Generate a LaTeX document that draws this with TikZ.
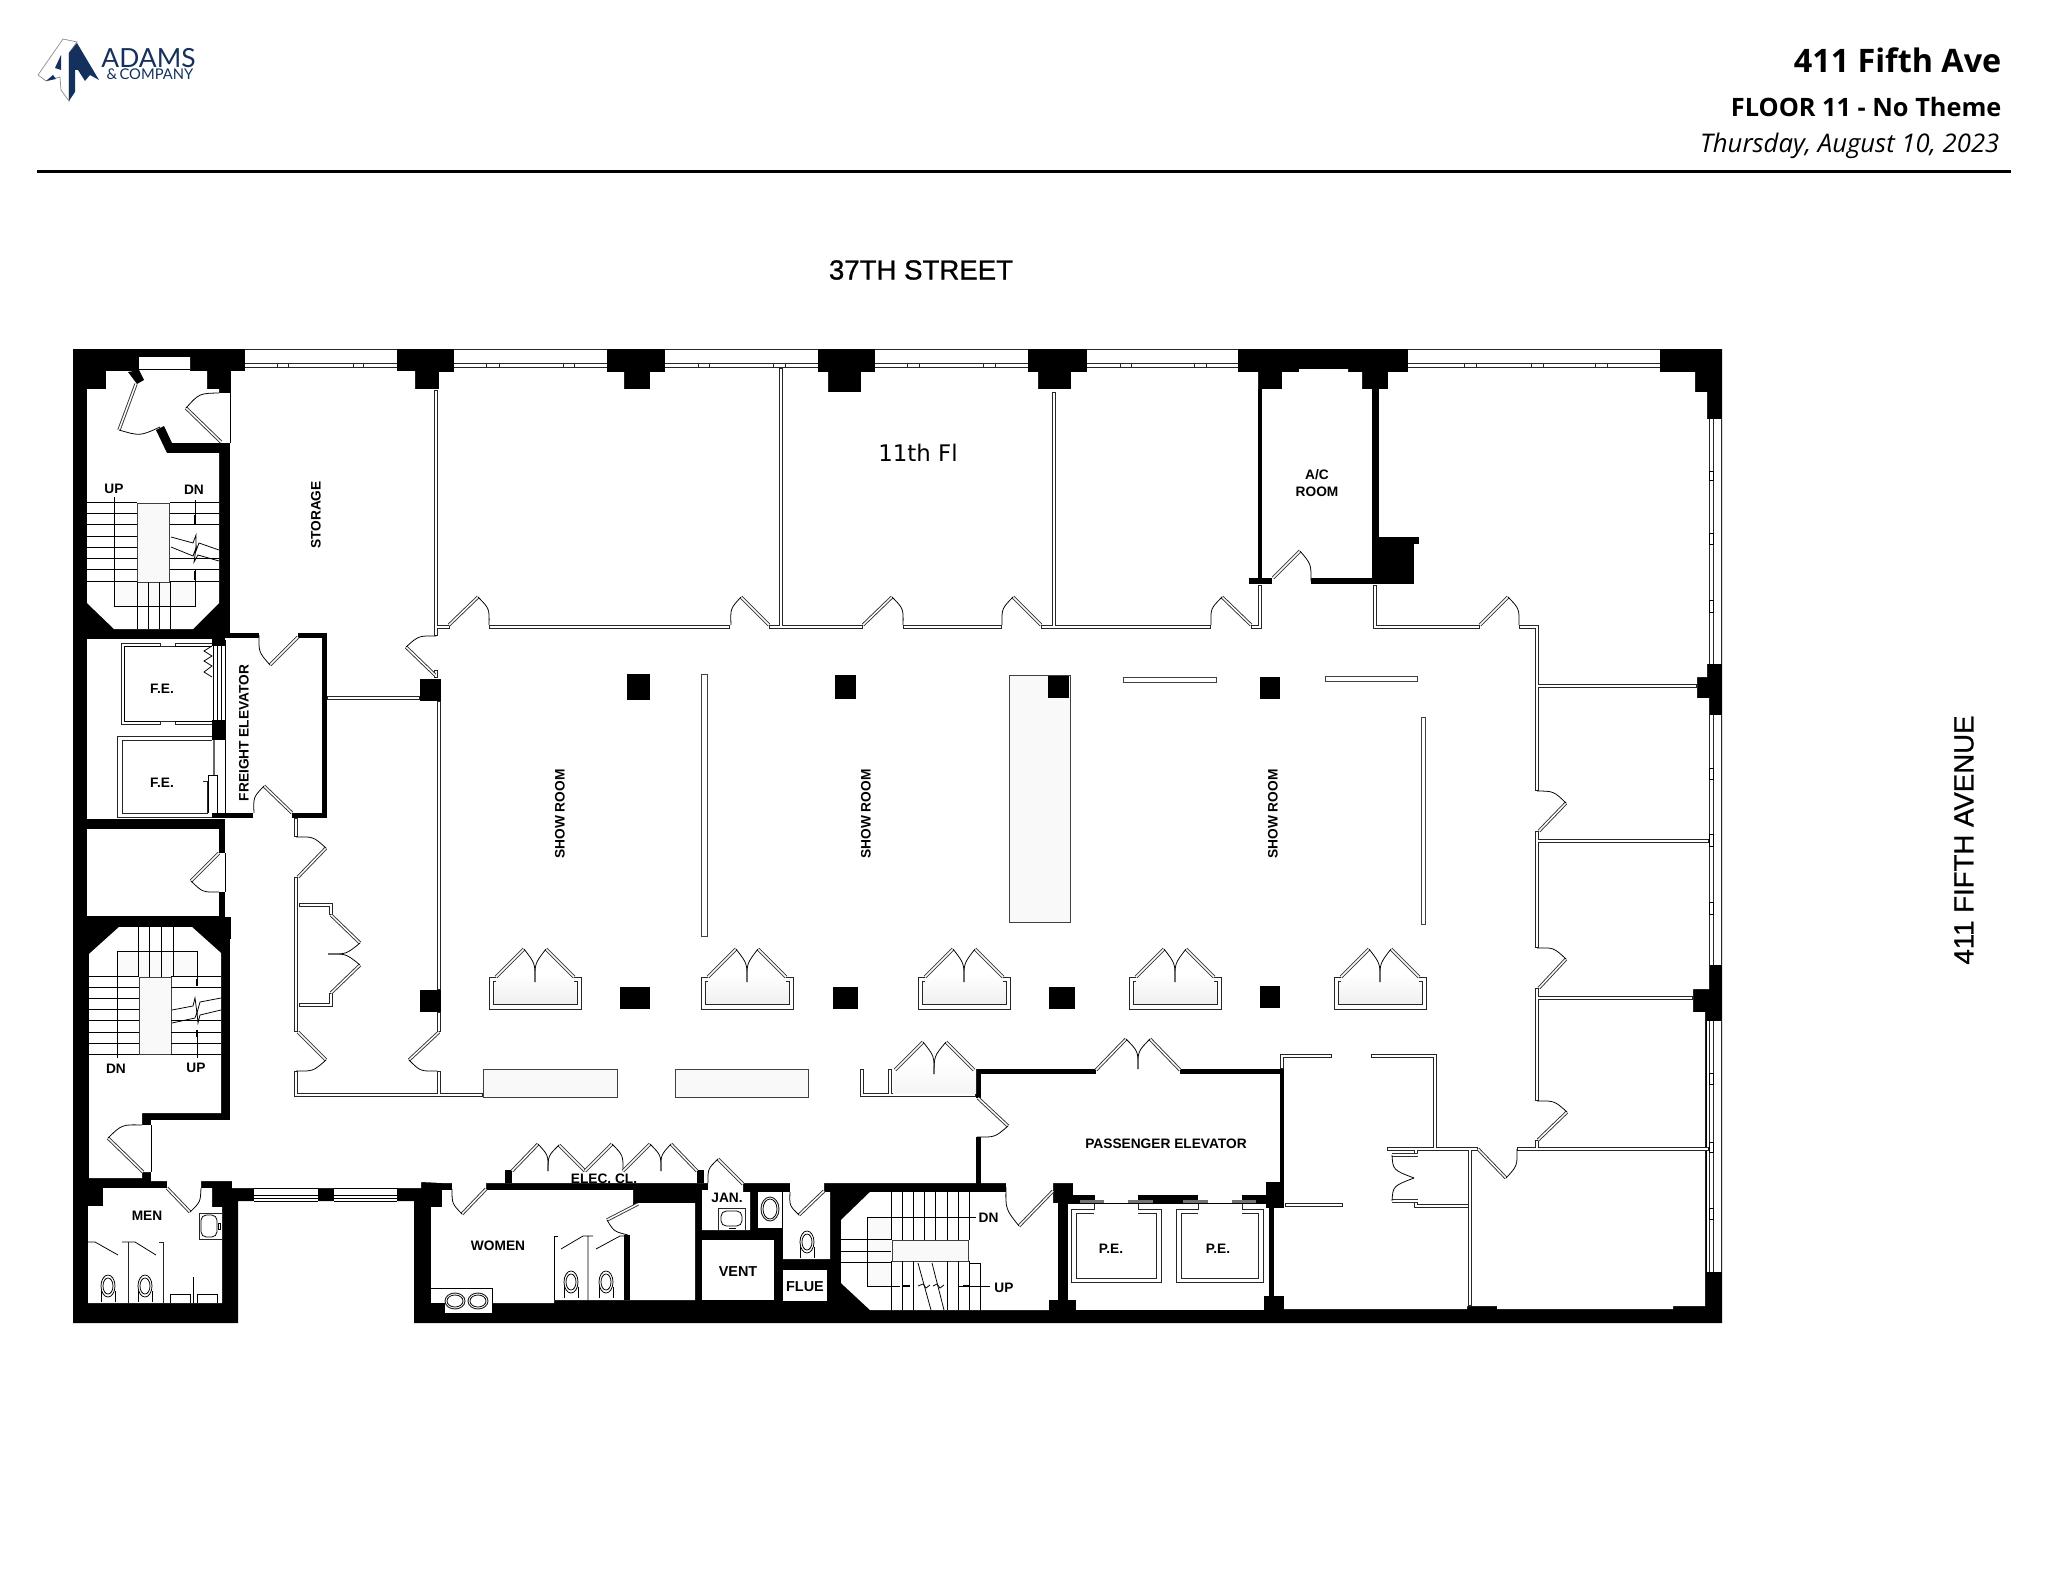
\documentclass[tikz,border=0pt]{standalone}
\usepackage{fontspec}
\setmainfont{Liberation Sans}
\newfontfamily\headfont{Open Sans}
\newfontfamily\markfont{DejaVu Sans}
\newfontfamily\logofont{Lato}
\newfontfamily\streetfont[FakeBold=0.9]{Liberation Sans}
\usetikzlibrary{calc}
\definecolor{adamsnavy}{HTML}{14305C}

\tikzset{
    wall/.style={fill=black},
    room/.style={fill=white},
    fineline/.style={draw=black!85,line width=0.27pt},
    hairline/.style={draw=black,line width=0.22pt},
    partition/.style={draw=black!85,line width=0.32pt,double=white,double distance=0.75pt,line cap=rect},
    leaf/.style={draw=black!80,line width=0.26pt,double=white,double distance=0.42pt},
    screenbox/.style={draw=black!75,line width=0.27pt,fill=white},
    tintbox/.style={draw=black!75,line width=0.27pt,fill=black!2.5},
    roomlabel/.style={font=\fontsize{3.9}{4.7}\selectfont\bfseries,inner sep=0pt,align=center},
    biglabel/.style={font=\fontsize{4.1}{5}\selectfont\bfseries,inner sep=0pt},
    streetlabel/.style={font=\streetfont\fontsize{7.85}{10}\selectfont,inner sep=0pt},
}

% hinge, leaf tip, end of the swing
\newcommand{\door}[3]{
    \draw[leaf] (#1) -- (#2);
    \draw[hairline] (#2) .. controls ($(#1)+0.586*(#2)+0.586*(#3)-1.172*(#1)$) .. (#3);
}
\newcommand{\topwin}[2]{
    \fill[room] (#1,350) rectangle (#2,372);
    \draw[fineline] (#1,349.5) -- (#2,349.5);
    \draw[fineline] (#1,363) -- (#2,363) (#1,367) -- (#2,367);
}
\newcommand{\eastwin}[2]{
    \fill[room] (1707,#1) rectangle (1721.6,#2);
    \draw[fineline] (1721.6,#1) -- (1721.6,#2);
    \draw[fineline] (1709,#1) -- (1709,#2) (1713,#1) -- (1713,#2);
}
\newcommand{\mullion}[2]{\draw[fineline,fill=white] (#1,363) rectangle (#2,367.4);}
\newcommand{\eastmul}[2]{\draw[hairline,fill=white] (1709,#1) rectangle (1713,#2);}
\newcommand{\showbay}[1]{
    \begin{scope}[shift={(#1,0)}]
        \shade[top color=white,bottom color=black!6] (4,974) rectangle (88,1004);
        \draw[fineline] (7,977) -- (0,977) -- (0,1009) -- (92,1009) -- (92,977) -- (85,977);
        \draw[fineline] (7,981) -- (4,981) -- (4,1004) -- (88,1004) -- (88,981) -- (85,981);
        \door{7,977}{35,949}{46,982}
        \door{85,977}{57,949}{46,982}
    \end{scope}
}
\newcommand{\bowl}[2]{
    \draw[hairline] (#1,#2) ellipse (7 and 11);
    \draw[hairline] (#1,#2) ellipse (5 and 8);
    \draw[hairline] (#1-7,#2+5) -- (#1-7,#2+16) (#1+7,#2+5) -- (#1+7,#2+16);
}

\begin{document}
\begin{tikzpicture}[x=0.01cm,y=-0.01cm]
    \useasboundingbox (0,0) rectangle (2048,1582);

    % Logo
    \draw[draw=black!45,line width=0.2pt,fill=white] (38,75) -- (63,39) -- (77,42) -- (69,53) -- (69,101) -- (61,90) -- (60,77) -- (46,81) -- cycle;
    \fill[adamsnavy] (77,43) -- (99,80) -- (90,75) -- (85,81) -- (78,70) -- (75,70) -- (75,92) -- (69,101) -- (69,53) -- cycle;
    \fill[adamsnavy] (55,68) -- (61,55) -- (61,70) -- cycle;
    \fill[adamsnavy] (46,81) -- (53,75) -- (56,79) -- cycle;
    \node[font=\logofont\fontsize{7.5}{8}\selectfont,text=adamsnavy,inner sep=0pt] (logoname) at (148.5,58) {ADAMS};
    \node[font=\logofont\fontsize{4.2}{5}\selectfont,text=adamsnavy,inner sep=0pt] (logocompany) at (150,74.5) {\&\,COMPANY};

    % Page header
    \node[anchor=east,font=\headfont\bfseries\fontsize{9.2}{11}\selectfont,inner sep=0pt] (buildingname) at (2002,60) {411 Fifth Ave};
    \node[anchor=east,font=\headfont\bfseries\fontsize{7.2}{9}\selectfont,inner sep=0pt] (floorname) at (2002,107) {FLOOR 11 - No Theme};
    \node[anchor=east,font=\headfont\itshape\fontsize{7.3}{9}\selectfont,inner sep=0pt] (reportdate) at (2000,146) {Thursday, August 10, 2023};
    \fill[black] (37,170.5) rectangle (2011,173);

    % Street names
    \node[streetlabel] (northstreet) at (921,270) {37TH STREET};
    \node[streetlabel,rotate=90] (eastavenue) at (1964,840) {411 FIFTH AVENUE};

    % Building mass
    \fill[wall] (73,349) -- (1722,349) -- (1722,1323) -- (414,1323) -- (414,1201) -- (238,1201) -- (238,1323) -- (73,1323) -- cycle;

    % Open floor
    \fill[room] (230,371) -- (415,371) -- (415,389) -- (439,389) -- (439,372) -- (624,372) -- (624,389) -- (650,389) -- (650,372)
        -- (828,372) -- (828,392) -- (861,392) -- (861,372) -- (1038,372) -- (1038,389) -- (1071,389) -- (1071,372)
        -- (1258,372) -- (1258,389) -- (1282,389) -- (1282,372) -- (1299,372) -- (1299,369) -- (1348,369) -- (1348,372)
        -- (1362,372) -- (1362,389) -- (1388,389) -- (1388,372) -- (1695,372) -- (1695,392) -- (1707,392) -- (1707,677)
        -- (1697,677) -- (1697,698) -- (1709,698) -- (1709,989) -- (1693,989) -- (1693,1012) -- (1705,1012) -- (1705,1306)
        -- (1673,1306) -- (1673,1309) -- (1497,1309) -- (1497,1306) -- (1467,1306) -- (1467,1309) -- (1284,1309) -- (1284,1296)
        -- (1274,1296) -- (1274,1208) -- (1284,1208) -- (1284,1183) -- (442,1183) -- (421,1182) -- (421,1188) -- (232,1188)
        -- (232,1181) -- (151,1181) -- (151,1120) -- (230,1120) -- (230,939) -- (231,939) -- (231,917) -- (225,917)
        -- (225,633) -- (230,633) -- cycle;

    % Rooms cut out of the core
    \fill[room] (87,389) -- (106,389) -- (106,371) -- (139,371) -- (139,357) -- (190,357) -- (190,371) -- (207,371) -- (207,389) -- (219,389)
        -- (219,393) -- (230,393) -- (230,443) -- (219,443) -- (219,603) -- (193,629) -- (114,629) -- (87,603) -- cycle;
    \draw[hairline] (139,369.5) -- (190,369.5);
    \draw[hairline] (230,371) -- (230,443);
    \fill[room] (87,639) rectangle (225,819);
    \fill[room] (87,829) rectangle (219,916);
    \fill[room] (219,853) rectangle (226,892);
    \draw[hairline] (225,853) -- (225,892);
    \fill[room] (119,927) -- (192,927) -- (221,953) -- (221,1113) -- (142,1113) -- (142,1125) -- (151,1125) -- (151,1172) -- (142,1172)
        -- (142,1178) -- (89,1178) -- (89,954) -- cycle;
    \draw[hairline] (151,1125) -- (151,1172);
    \fill[room] (88,1206) -- (103,1206) -- (103,1188) -- (167,1188) -- (167,1178) -- (201,1178) -- (201,1188) -- (212,1188) -- (212,1207)
        -- (222,1207) -- (222,1303) -- (88,1303) -- cycle;
    \fill[room] (431,1207) -- (442,1207) -- (442,1190) -- (452,1190) -- (452,1182) -- (486,1182) -- (486,1190) -- (633,1190) -- (633,1203)
        -- (695,1203) -- (695,1300) -- (554,1300) -- (554,1303) -- (431,1303) -- cycle;
    \fill[room] (702,1190) -- (708,1190) -- (708,1182) -- (743,1182) -- (743,1192) -- (750,1192) -- (750,1230) -- (702,1230) -- cycle;
    \fill[room] (758,1192) rectangle (782,1228);
    \fill[room] (702,1240) rectangle (774,1300);
    \fill[room] (783,1192) -- (790,1192) -- (790,1182) -- (824,1182) -- (824,1192) -- (830,1192) -- (830,1259) -- (783,1259) -- cycle;
    \fill[room] (783,1270) rectangle (827,1301);
    \fill[room] (870,1192) -- (1006,1192) -- (1006,1182) -- (1053,1182) -- (1053,1203) -- (1058,1203) -- (1058,1300) -- (1049,1300)
        -- (1049,1310) -- (870,1310) -- (841,1283) -- (841,1220) -- cycle;
    \fill[room] (1073,1182) rectangle (1266,1195);
    \fill[room] (1095,1194) rectangle (1138,1204);
    \fill[room] (1198,1194) rectangle (1242,1204);
    \fill[room] (1068,1203) rectangle (1269,1310);

    % Clipped closet label goes under its wall
    \node[roomlabel] (eleccloset) at (604,1179) {ELEC. CL.};

    % Window bands
    \topwin{245}{397}
    \topwin{454}{607}
    \topwin{665}{818}
    \topwin{875}{1028}
    \topwin{1087}{1238}
    \topwin{1408}{1660}
    \mullion{277}{288}
    \mullion{353}{363}
    \mullion{486}{499}
    \mullion{563}{574}
    \mullion{698}{709}
    \mullion{773}{785}
    \mullion{907}{919}
    \mullion{983}{995}
    \mullion{1120}{1131}
    \mullion{1194}{1206}
    \mullion{1464}{1476}
    \mullion{1531}{1543}
    \mullion{1595}{1607}
    \eastwin{419}{664}
    \eastwin{715}{965}
    \eastwin{1021}{1272}
    \eastmul{471}{480}
    \eastmul{533}{544}
    \eastmul{600}{612}
    \eastmul{768}{779}
    \eastmul{834}{846}
    \eastmul{902}{914}
    \eastmul{1073}{1084}
    \eastmul{1142}{1152}
    \eastmul{1208}{1219}
    \fill[room] (254,1188) rectangle (318,1201);
    \fill[room] (334,1188) rectangle (397,1201);
    \draw[hairline] (254,1188) -- (318,1188) (254,1195) -- (318,1195) (254,1198) -- (318,1198) (254,1201) -- (318,1201);
    \draw[hairline] (334,1188) -- (397,1188) (334,1195) -- (397,1195) (334,1198) -- (397,1198) (334,1201) -- (397,1201);

    % Solid walls over the floor
    \fill[wall] (167,443) rectangle (230,453);
    \fill[wall] (156,430) -- (164,426) -- (172,443) -- (167,453) -- cycle;
    \fill[wall] (128,372) -- (139,370) -- (144,380) -- (137,384) -- cycle;
    \fill[wall] (225,633) rectangle (259,638);
    \fill[wall] (298,633) rectangle (327,638);
    \fill[wall] (322,633) rectangle (327,818);
    \fill[wall] (292,813) rectangle (327,818);
    \fill[wall] (212,813) rectangle (253,818);
    \fill[wall] (212,633) rectangle (225,646);
    \fill[wall] (212,720) rectangle (225,740);
    \fill[wall] (87,819) rectangle (225,829);
    \fill[wall] (225,917) rectangle (231,939);
    \fill[wall] (1258,389) rectangle (1262,578);
    \fill[wall] (1249,578) rectangle (1272,584);
    \fill[wall] (1311,578) rectangle (1372,584);
    \fill[wall] (1372,389) rectangle (1379,584);
    \fill[wall] (1372,543) rectangle (1414,584);
    \fill[wall] (1379,537) rectangle (1419,544);
    \fill[wall] (976,1069) rectangle (1096,1074);
    \fill[wall] (1180,1069) rectangle (1284,1074);
    \fill[wall] (976,1069) rectangle (981,1098);
    \fill[wall] (976,1137) rectangle (981,1184);
    \fill[wall] (1280,1069) rectangle (1284,1184);
    \fill[wall] (1266,1182) rectangle (1284,1208);
    \fill[wall] (1269,1203) rectangle (1274,1300);
    \fill[wall] (1264,1296) rectangle (1284,1310);
    \fill[wall] (1058,1203) rectangle (1068,1310);
    \fill[wall] (1049,1300) rectangle (1076,1310);
    \fill[wall] (505,1170) rectangle (512,1183);
    \fill[wall] (697,1170) rectangle (704,1183);
    \fill[wall] (624,1235) rectangle (630,1300);
    \fill[wall] (633,1203) rectangle (638,1205);

    % Free columns
    \fill[wall] (420,679) rectangle (441,701);
    \fill[wall] (420,990) rectangle (441,1012);
    \fill[wall] (627,674) rectangle (650,700);
    \fill[wall] (835,675) rectangle (856,699);
    \draw[tintbox] (1009,675) rectangle (1070,922);
    \fill[wall] (1048,676) rectangle (1069,698);
    \fill[wall] (1260,677) rectangle (1280,699);
    \fill[wall] (620,987) rectangle (650,1009);
    \fill[wall] (833,987) rectangle (858,1009);
    \fill[wall] (1049,987) rectangle (1075,1009);
    \fill[wall] (1260,986) rectangle (1280,1008);

    % Partitions
    \draw[partition] (436,392) -- (436,633.5)
        (436,627) -- (447.5,627)
        (491.5,627) -- (727.5,627)
        (771.5,627) -- (860.5,627)
        (781,370) -- (781,627)
        (905.5,627) -- (999.5,627)
        (1043.5,627) -- (1208.5,627)
        (1054,394.5) -- (1054,627)
        (1253.5,627) -- (1260,627) -- (1260,587)
        (1375,587) -- (1375,627) -- (1477.5,627)
        (1521.5,627) -- (1537,627) -- (1537,788.5)
        (1537,833.5) -- (1537,945.5)
        (1537,990.5) -- (1537,1098.5)
        (1537,1142.5) -- (1537,1147)
        (1539,686) -- (1694.5,686)
        (1539,841) -- (1706.5,841)
        (1539,998) -- (1690.5,998)
        (1519.5,1149) -- (1706.5,1149)
        (1389.5,1149) -- (1475.5,1149)
        (1470,1149) -- (1470,1303.5)
        (1416,1151) -- (1416,1153.5)
        (1416,1203.5) -- (1416,1206) -- (1467,1206)
        (1435,1058.5) -- (1435,1147)
        (1373.5,1056) -- (1435,1056)
        (1329.5,1056) -- (1282,1056) -- (1282,1066.5)
        (1287.5,1205) -- (1340.5,1205)
        (329.5,698) -- (417.5,698)
        (436,672.5) -- (436,676)
        (439,703.5) -- (439,987.5)
        (439,1014.5) -- (439,1029.5)
        (439,1073.5) -- (439,1095)
        (296,820.5) -- (296,834.5)
        (296,879.5) -- (296,1029.5)
        (296,1073.5) -- (296,1095) -- (480.5,1095)
        (301.5,905) -- (331,905) -- (331,912.5)
        (301.5,1005) -- (331,1005) -- (331,995.5)
        (862,1071.5) -- (862,1095) -- (973.5,1095)
        (890,1071.5) -- (890,1095);

    % Free standing screens and counters
    \draw[screenbox] (701,674) rectangle (707,936);
    \draw[screenbox] (1123,677) rectangle (1216,682);
    \draw[screenbox] (1325,676) rectangle (1417,681);
    \draw[screenbox] (1421,717) rectangle (1425,924);
    \draw[tintbox] (483,1069) rectangle (617,1097);
    \draw[tintbox] (675,1069) rectangle (808,1097);
    \shade[top color=white,bottom color=black!4] (893,1062) rectangle (976,1093);

    % Display bays
    \showbay{489}
    \showbay{701}
    \showbay{918}
    \showbay{1129}
    \showbay{1334}

    % Doors
    \door{449,625}{478,597}{489,625}
    \door{769,625}{741,597}{731,625}
    \door{863,625}{892,597}{903,625}
    \door{1041,625}{1013,597}{1002,625}
    \door{1251,625}{1222,597}{1211,625}
    \door{1480,625}{1508,597}{1519,625}
    \door{1273,578}{1300,551}{1311,581}
    \door{435,675}{406,647}{436,636}
    \door{439,1032}{409,1060}{437,1071}
    \door{298,877}{326,848}{296,837}
    \door{298,1032}{326,1060}{296,1071}
    \door{298,637}{270,665}{259,635}
    \door{292,813}{264,786}{254,813}
    \door{221,442}{186,408}{219,393}
    \door{136,384}{119,430}{160,427}
    \door{219,853}{191,881}{219,892}
    \door{143,1172}{108,1138}{142,1125}
    \door{167,1188}{190,1212}{201,1188}
    \door{486,1189}{462,1214}{452,1189}
    \door{638,1204}{607,1220}{628,1235}
    \door{743,1184}{718,1159}{708,1183}
    \door{824,1191}{799,1215}{790,1192}
    \door{1053,1191}{1019,1226}{1006,1187}
    \door{978,1098}{1008,1126}{977,1137}
    \door{1539,831}{1566,803}{1537,791}
    \door{1539,988}{1566,959}{1537,948}
    \door{1538,1140}{1567,1112}{1537,1101}
    \door{1478,1149}{1506,1178}{1517,1149}
    \door{331,915}{360,943}{328,954}
    \door{331,993}{360,965}{328,954}
    \door{512,1171}{538,1144}{548,1171}
    \door{585,1171}{559,1145}{548,1171}
    \door{585,1171}{612,1144}{623,1171}
    \door{623,1171}{650,1144}{661,1171}
    \door{697,1171}{671,1144}{661,1171}
    \door{895,1070}{923,1042}{934,1074}
    \door{974,1070}{946,1042}{934,1074}
    \door{1096,1070}{1126,1039}{1138,1069}
    \door{1180,1070}{1150,1039}{1138,1069}
    \draw[leaf] (1418,1155) -- (1392,1155);
    \draw[hairline] (1392,1155) .. controls (1393,1170) .. (1414,1178);
    \draw[leaf] (1418,1201) -- (1392,1201);
    \draw[hairline] (1392,1201) .. controls (1393,1186) .. (1414,1178);

    % North west stair
    \fill[black!2] (114,582) rectangle (195,606);
    \draw[tintbox] (137,503) rectangle (169,582);
    \draw[hairline] (87,502) -- (137,502) (87,513) -- (137,513) (87,524) -- (137,524) (87,536) -- (137,536)
        (87,547) -- (137,547) (87,558) -- (137,558) (87,569) -- (137,569) (87,581) -- (137,581);
    \draw[hairline] (170,502) -- (219,502) (170,513) -- (219,513) (170,524) -- (219,524)
        (170,558) -- (219,558) (170,569) -- (219,569) (170,581) -- (219,581);
    \draw[hairline] (137,582) -- (137,629) (148,582) -- (148,629) (159,582) -- (159,629) (170,582) -- (170,629);
    \draw[hairline] (114,497) -- (114,606) -- (195,606) -- (195,570) (195,500) -- (195,515);
    \draw[hairline] (171,537) -- (193,543) -- (196,535) -- (196,551) -- (199,543) -- (219,550);
    \draw[hairline] (171,547) -- (193,556) -- (196,548) -- (194,562) -- (198,555) -- (219,561);
    \fill[wall] (194,515) rectangle (196,525);
    \fill[wall] (194,571) rectangle (196,580);

    % South west stair
    \fill[black!2] (117,951) rectangle (197,977);
    \draw[tintbox] (139,977) rectangle (171,1054);
    \draw[hairline] (89,976) -- (139,976) (89,987) -- (139,987) (89,998) -- (139,998) (89,1009) -- (139,1009)
        (89,1020) -- (139,1020) (89,1032) -- (139,1032) (89,1043) -- (139,1043) (89,1054) -- (139,1054);
    \draw[hairline] (171,976) -- (221,976) (171,987) -- (221,987) (171,1020) -- (221,1020) (171,1032) -- (221,1032)
        (171,1043) -- (221,1043) (171,1054) -- (221,1054);
    \draw[hairline] (138,927) -- (138,977) (149,927) -- (149,977) (161,927) -- (161,977) (173,927) -- (173,977);
    \draw[hairline] (117,1058) -- (117,951) -- (197,951) -- (197,979) (197,1058) -- (197,1037);
    \draw[hairline] (172,1010) -- (193,1006) -- (195,998) -- (197,1013) -- (200,1002) -- (221,998);
    \draw[hairline] (172,1023) -- (195,1018) -- (197,1012) -- (198,1023) -- (200,1015) -- (221,1010);
    \fill[wall] (196,979) rectangle (198,986);
    \fill[wall] (196,1030) rectangle (198,1037);

    % South stair
    \fill[black!2] (867,1217) rectangle (891,1286);
    \draw[tintbox] (892,1240) rectangle (968,1261);
    \draw[hairline] (891,1192) -- (891,1240) (902,1192) -- (902,1240) (913,1192) -- (913,1240) (924,1192) -- (924,1240)
        (935,1192) -- (935,1240) (947,1192) -- (947,1240) (958,1192) -- (958,1240) (969,1192) -- (969,1240);
    \draw[hairline] (891,1261) -- (891,1310) (902,1261) -- (902,1310) (913,1261) -- (913,1310) (947,1261) -- (947,1310)
        (958,1261) -- (958,1310) (969,1261) -- (969,1310);
    \draw[hairline] (969,1263) -- (980,1263) -- (980,1310);
    \draw[hairline] (841,1239) -- (891,1239) (841,1251) -- (891,1251) (841,1262) -- (891,1262);
    \draw[hairline] (976,1217) -- (867,1217) -- (867,1286) -- (900,1286) (958,1286) -- (990,1286);
    \draw[hairline] (918,1263) -- (931,1310) (932,1263) -- (944,1310);
    \draw[hairline] (918,1286) -- (923,1284) -- (926,1288) -- (930,1285) (933,1286) -- (937,1284) -- (940,1288) -- (944,1285);
    \fill[wall] (903,1285) rectangle (910,1287);
    \fill[wall] (963,1285) rectangle (969,1287);

    % Freight cars
    \draw[fineline] (121,643) -- (160,643) -- (160,646) -- (175,646) -- (175,643) -- (212,643)
        (212,724) -- (175,724) -- (175,721) -- (160,721) -- (160,724) -- (121,724) -- (121,643);
    \draw[hairline] (124,646) -- (160,646) (175,646) -- (212,646) (212,721) -- (175,721) (160,721) -- (124,721) -- (124,646);
    \draw[hairline] (212,646) -- (204,651) -- (212,656) -- (204,661) -- (212,666) -- (204,672) -- (212,677);
    \draw[hairline] (213,646) -- (213,720) (217,646) -- (217,720) (221,646) -- (221,720) (225,640) -- (225,813);
    \draw[fineline] (212,736) -- (117,736) -- (117,817) -- (212,817);
    \draw[fineline] (212,740) -- (122,740) -- (122,813) -- (207,813) -- (207,781) -- (203,781);
    \draw[hairline] (208,813) -- (208,775) -- (217,775) -- (217,813);
    \draw[draw=black!60,line width=0.6pt] (214,740) -- (214,775);

    % Passenger cars
    \fill[black!55] (1080,1200) rectangle (1104,1203);
    \fill[black!55] (1128,1200) rectangle (1153,1203);
    \fill[black!55] (1183,1200) rectangle (1208,1203);
    \fill[black!55] (1232,1200) rectangle (1256,1203);
    \draw[hairline] (1068,1203.5) -- (1269,1203.5);
    \draw[fineline] (1094,1204) -- (1094,1209) -- (1071,1209) -- (1071,1282) -- (1161,1282) -- (1161,1209) -- (1138,1209) -- (1138,1204);
    \draw[fineline] (1094,1213) -- (1076,1213) -- (1076,1278) -- (1156,1278) -- (1156,1213) -- (1138,1213);
    \draw[fineline] (1198,1204) -- (1198,1209) -- (1176,1209) -- (1176,1282) -- (1263,1282) -- (1263,1209) -- (1242,1209) -- (1242,1204);
    \draw[fineline] (1198,1213) -- (1181,1213) -- (1181,1278) -- (1258,1278) -- (1258,1213) -- (1242,1213);

    % Men
    \draw[hairline] (88,1242) -- (95,1242) -- (118,1255);
    \draw[hairline] (122,1242) -- (135,1242) -- (156,1255);
    \draw[fineline] (128,1242) -- (128,1303);
    \draw[fineline] (159,1242) -- (163,1242) -- (163,1303);
    \draw[hairline] (193,1277) -- (193,1303);
    \draw[hairline] (170,1303) -- (170,1294) -- (190,1294) -- (190,1303) (197,1303) -- (197,1294) -- (217,1294) -- (217,1303);
    \bowl{108}{1286}
    \bowl{145}{1286}
    \draw[fineline] (199,1213) rectangle (222,1239);
    \draw[hairline,rounded corners=1.5] (201,1215) rectangle (217,1237);
    \draw[hairline] (218,1223) rectangle (220,1229);

    % Women
    \fill[room] (431,1288) rectangle (492,1303);
    \fill[room] (444,1303) rectangle (492,1313);
    \draw[hairline] (431,1288) -- (492,1288) -- (492,1313) -- (444,1313) -- (444,1303) -- (431,1303);
    \draw[fineline] (455,1301) ellipse (10 and 8);
    \draw[hairline] (455,1301) ellipse (8 and 6);
    \draw[fineline] (478,1301) ellipse (10 and 8);
    \draw[hairline] (478,1301) ellipse (8 and 6);
    \draw[hairline] (554,1300) -- (554,1236) -- (558,1236);
    \draw[hairline] (561,1249) -- (583,1236) -- (593,1236) (588,1236) -- (588,1300);
    \draw[hairline] (596,1249) -- (620,1236) -- (628,1236);
    \bowl{571}{1282}
    \bowl{606}{1282}

    % Service closets
    \draw[fineline] (718,1230) -- (718,1208) -- (745,1208) -- (745,1230);
    \draw[hairline,rounded corners=1.5] (721,1211) rectangle (742,1226);
    \draw[hairline] (729,1228) -- (736,1228);
    \draw[fineline] (770,1209) ellipse (9 and 12);
    \draw[hairline] (770,1209) ellipse (7 and 10);
    \bowl{807}{1242}

    % Room labels
    \node[roomlabel] (nwup) at (114,489) {UP};
    \node[roomlabel] (nwdown) at (194,490) {DN};
    \node[roomlabel,rotate=90] (storage) at (316,515) {STORAGE};
    \node[roomlabel] (feupper) at (162,689) {F.E.};
    \node[roomlabel] (felower) at (162,783) {F.E.};
    \node[roomlabel,rotate=90] (freightelevator) at (244,733) {FREIGHT ELEVATOR};
    \node[roomlabel] (swdown) at (116,1069) {DN};
    \node[roomlabel] (swup) at (196,1068) {UP};
    \node[roomlabel] (men) at (147,1216) {MEN};
    \node[roomlabel] (women) at (498,1246) {WOMEN};
    \node[roomlabel] (janitor) at (727,1198) {JAN.};
    \node[biglabel] (vent) at (738,1272) {VENT};
    \node[biglabel] (flue) at (805,1287) {FLUE};
    \node[roomlabel] (southdown) at (988.5,1218) {DN};
    \node[roomlabel] (southup) at (1004,1288) {UP};
    \node[roomlabel] (passengerelevator) at (1166,1144) {PASSENGER ELEVATOR};
    \node[roomlabel] (peleft) at (1111,1249) {P.E.};
    \node[roomlabel] (peright) at (1218,1249) {P.E.};
    \node[roomlabel,rotate=90] (showwest) at (560,814) {SHOW ROOM};
    \node[roomlabel,rotate=90] (showmiddle) at (866,814) {SHOW ROOM};
    \node[roomlabel,rotate=90] (showeast) at (1273,814) {SHOW ROOM};
    \node[roomlabel] (acroom) at (1317,483) {A/C\\ROOM};
    \node[font=\markfont\fontsize{6.5}{8}\selectfont,inner sep=0pt] (floormark) at (918,453) {11th Fl};
\end{tikzpicture}
\end{document}
